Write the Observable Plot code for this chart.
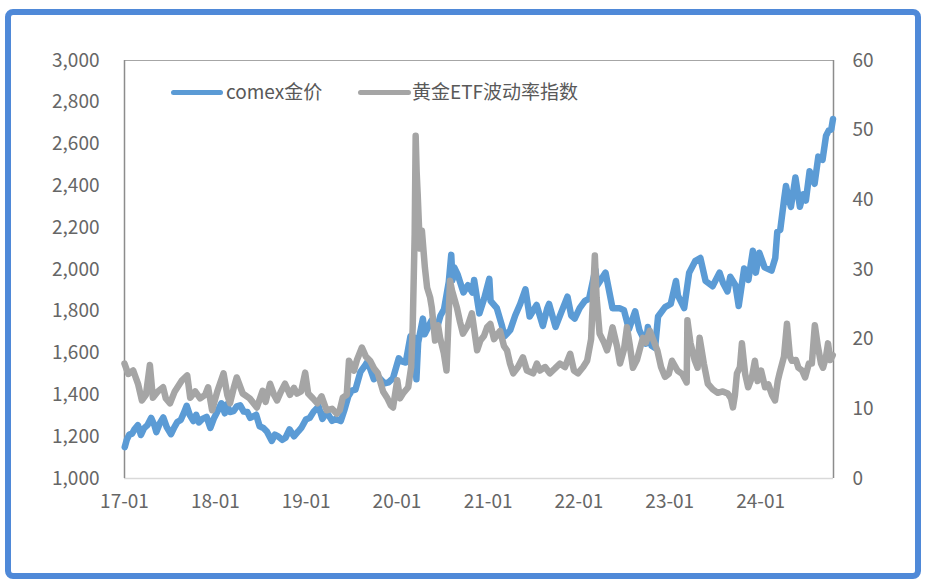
<!DOCTYPE html>
<html>
<head>
<meta charset="utf-8">
<script src="https://cdn.jsdelivr.net/npm/d3@7"></script>
<script src="https://cdn.jsdelivr.net/npm/@observablehq/plot@0.6"></script>
<style>
  html, body { margin:0; padding:0; background:#fff; }
  body { width:929px; height:586px; overflow:hidden; position:relative; font-family:"Noto Sans CJK SC","Noto Sans",sans-serif; }
  #frame { position:absolute; left:5px; top:9px; width:904px; height:558px; border:6px solid #4f89d8; border-radius:8px; }
  #chart { position:absolute; left:0; top:0; }
  .sw { position:absolute; height:5px; border-radius:3px; }
  .lt { position:absolute; font-size:19px; line-height:20px; color:#595959; white-space:nowrap; }
</style>
</head>
<body>
<div id="frame"></div>
<div id="chart"></div>
<div class="sw" style="left:171px;top:90px;width:52px;background:#5b9bd5"></div>
<div class="lt" style="left:226px;top:81px">comex金价</div>
<div class="sw" style="left:358px;top:90px;width:53px;background:#a5a5a5"></div>
<div class="lt" style="left:412px;top:81px">黄金ETF波动率指数</div>
<script>
const seriesNames = ["comex金价", "黄金ETF波动率指数"];
const yearTicks = ["2017-01-01","2018-01-01","2019-01-01","2020-01-01","2021-01-01","2022-01-01","2023-01-01","2024-01-01"];
const leftTicks = [1000,1200,1400,1600,1800,2000,2200,2400,2600,2800,3000];
const rightTicks = [0,10,20,30,40,50,60];

const goldDates = [
"2017-01-02","2017-01-10","2017-01-20","2017-02-01","2017-02-10","2017-02-24","2017-03-08","2017-03-20","2017-04-03","2017-04-18",
"2017-05-01","2017-05-09","2017-05-22","2017-06-06","2017-06-20","2017-07-07","2017-07-20","2017-08-01","2017-08-15","2017-08-28",
"2017-09-08","2017-09-20","2017-10-05","2017-10-16","2017-10-27","2017-11-10","2017-11-27","2017-12-12","2017-12-27","2018-01-10",
"2018-01-25","2018-02-08","2018-02-16","2018-03-01","2018-03-15","2018-03-28","2018-04-11","2018-04-25","2018-05-10","2018-05-21",
"2018-06-14","2018-06-28","2018-07-13","2018-07-27","2018-08-16","2018-08-28","2018-09-12","2018-09-27","2018-10-10","2018-10-26",
"2018-11-13","2018-11-30","2018-12-14","2018-12-31","2019-01-15","2019-01-31","2019-02-20","2019-03-07","2019-03-25","2019-04-15",
"2019-04-30","2019-05-20","2019-06-03","2019-06-20","2019-07-03","2019-07-18","2019-08-07","2019-08-28","2019-09-05","2019-09-30",
"2019-10-15","2019-11-12","2019-11-28","2019-12-16","2020-01-08","2020-01-20","2020-02-05","2020-02-24","2020-03-09","2020-03-19",
"2020-03-26","2020-04-14","2020-04-21","2020-05-18","2020-06-05","2020-06-24","2020-07-08","2020-07-27","2020-08-06","2020-08-11",
"2020-08-18","2020-09-01","2020-09-24","2020-10-12","2020-10-30","2020-11-06","2020-11-27","2020-12-16","2021-01-06","2021-01-11",
"2021-02-05","2021-02-26","2021-03-08","2021-03-31","2021-04-20","2021-05-10","2021-05-31","2021-06-17","2021-07-15","2021-08-09",
"2021-08-27","2021-09-03","2021-09-29","2021-10-22","2021-11-16","2021-12-01","2021-12-15","2022-01-04","2022-01-25","2022-02-11",
"2022-03-08","2022-03-16","2022-04-18","2022-05-16","2022-06-13","2022-07-01","2022-07-21","2022-08-15","2022-09-01","2022-09-28",
"2022-10-05","2022-10-20","2022-11-03","2022-11-15","2022-12-13","2023-01-05","2023-01-26","2023-02-03","2023-02-28","2023-03-20",
"2023-04-13","2023-05-04","2023-05-25","2023-06-22","2023-07-20","2023-08-03","2023-08-21","2023-09-01","2023-09-22","2023-10-05",
"2023-10-27","2023-11-13","2023-12-01","2023-12-13","2023-12-27","2024-01-17","2024-02-14","2024-02-29","2024-03-08","2024-03-20",
"2024-04-05","2024-04-12","2024-04-22","2024-05-02","2024-05-20","2024-06-07","2024-06-20","2024-07-01","2024-07-16","2024-08-05",
"2024-08-20","2024-09-06","2024-09-20","2024-10-01","2024-10-11","2024-10-18"];
const goldPrices = [
1150,1185,1210,1215,1235,1255,1208,1240,1255,1290,
1255,1222,1262,1292,1245,1212,1245,1270,1280,1315,
1348,1305,1275,1305,1268,1285,1295,1242,1290,1322,
1360,1312,1355,1318,1322,1345,1350,1320,1318,1290,
1305,1250,1242,1225,1180,1210,1200,1185,1195,1235,
1202,1225,1245,1282,1290,1320,1345,1285,1318,1276,
1285,1275,1325,1395,1420,1425,1510,1545,1560,1475,
1490,1455,1460,1480,1575,1560,1555,1680,1675,1475,
1650,1765,1690,1755,1700,1780,1810,1940,2070,1950,
2010,1975,1890,1925,1890,1950,1790,1860,1955,1850,
1815,1730,1680,1710,1780,1835,1905,1775,1830,1730,
1815,1835,1725,1795,1870,1780,1765,1815,1850,1860,
2000,1925,1985,1815,1815,1805,1715,1800,1710,1645,
1725,1635,1625,1775,1820,1835,1945,1875,1815,1985,
2040,2055,1945,1920,1985,1935,1895,1965,1925,1825,
2005,1950,2090,1985,2080,2010,1995,2055,2180,2190,
2340,2400,2340,2300,2440,2300,2360,2330,2470,2410,
2540,2525,2640,2665,2670,2720];

const gvzDates = [
"2017-01-01","2017-01-16","2017-02-05","2017-02-25","2017-03-12","2017-03-28","2017-04-13","2017-04-25","2017-05-15","2017-06-05",
"2017-06-16","2017-07-03","2017-07-22","2017-08-20","2017-09-10","2017-09-22","2017-10-12","2017-11-01","2017-11-21","2017-12-03",
"2017-12-19","2018-01-09","2018-02-03","2018-02-18","2018-03-01","2018-03-16","2018-03-28","2018-04-21","2018-05-19","2018-06-17",
"2018-07-10","2018-07-22","2018-08-09","2018-08-25","2018-09-06","2018-09-22","2018-10-08","2018-10-28","2018-11-13","2018-11-25",
"2018-12-12","2018-12-28","2019-01-09","2019-01-28","2019-02-15","2019-03-04","2019-03-24","2019-04-15","2019-05-04","2019-05-16",
"2019-05-28","2019-06-13","2019-06-22","2019-07-12","2019-07-24","2019-08-13","2019-08-29","2019-09-15","2019-10-01","2019-10-16",
"2019-11-06","2019-11-22","2019-12-07","2019-12-16","2020-01-02","2020-01-13","2020-01-25","2020-02-15","2020-02-27","2020-03-04",
"2020-03-12","2020-03-16","2020-03-20","2020-03-24","2020-04-02","2020-04-10","2020-04-22","2020-05-01","2020-05-13","2020-05-20",
"2020-06-02","2020-06-14","2020-06-22","2020-07-07","2020-07-18","2020-08-01","2020-08-09","2020-08-29","2020-09-10","2020-09-22",
"2020-10-12","2020-10-28","2020-11-18","2020-12-01","2020-12-16","2020-12-28","2021-01-10","2021-01-25","2021-02-18","2021-03-06",
"2021-03-18","2021-03-30","2021-04-12","2021-05-01","2021-05-21","2021-06-06","2021-07-01","2021-07-16","2021-07-28","2021-08-18",
"2021-09-06","2021-09-27","2021-10-17","2021-11-06","2021-11-27","2021-12-12","2021-12-28","2022-01-18","2022-02-03","2022-02-19",
"2022-03-06","2022-03-13","2022-03-25","2022-04-12","2022-04-24","2022-05-06","2022-05-16","2022-06-03","2022-06-15","2022-07-01",
"2022-07-13","2022-07-25","2022-08-06","2022-08-22","2022-09-15","2022-09-27","2022-10-13","2022-10-31","2022-11-12","2022-11-27",
"2022-12-13","2022-12-28","2023-01-10","2023-02-01","2023-02-20","2023-03-10","2023-03-13","2023-03-25","2023-04-11","2023-04-23",
"2023-05-01","2023-05-18","2023-06-03","2023-06-23","2023-07-13","2023-08-02","2023-08-22","2023-09-04","2023-09-12","2023-09-20",
"2023-09-28","2023-10-10","2023-10-18","2023-10-31","2023-11-12","2023-11-27","2023-12-09","2023-12-20","2024-01-03","2024-01-19",
"2024-02-01","2024-02-16","2024-02-28","2024-03-10","2024-03-18","2024-04-04","2024-04-16","2024-04-28","2024-05-06","2024-05-22",
"2024-06-01","2024-06-16","2024-06-28","2024-07-13","2024-07-25","2024-08-06","2024-08-18","2024-08-31","2024-09-08","2024-09-20",
"2024-09-28","2024-10-07","2024-10-17"];
const gvzValues = [
16.5,15.0,15.5,13.5,11.2,12.0,16.3,11.6,12.5,13.1,
11.5,10.8,12.5,14.1,14.8,11.6,12.5,11.5,12.0,13.1,
9.8,12.5,15.1,12.0,10.8,13.0,14.5,12.2,11.5,10.2,
12.6,11.0,13.6,12.0,11.2,12.5,13.6,12.0,13.0,12.2,
12.5,15.2,12.2,11.5,10.8,11.8,9.8,10.0,9.3,9.8,
11.6,12.0,16.9,15.5,17.0,18.8,17.5,16.9,15.8,15.1,
12.5,11.6,10.5,10.2,14.1,11.5,12.2,13.1,16.0,21.7,
35.0,49.2,44.0,40.9,33.0,35.6,30.3,27.4,26.0,24.5,
19.8,22.0,20.2,18.0,15.5,28.4,27.0,24.5,22.5,20.8,
22.0,23.7,18.4,19.8,20.5,21.7,22.2,20.0,21.2,19.0,
18.4,16.5,15.1,16.0,17.4,15.5,15.1,16.5,15.5,16.0,
15.1,15.8,16.5,16.0,17.9,15.5,15.1,16.0,16.9,20.0,
32.0,26.0,20.8,19.5,18.4,20.0,21.7,19.0,16.5,18.5,
21.7,19.0,15.9,17.0,20.2,19.5,21.2,19.5,18.4,16.0,
14.6,15.0,16.9,15.5,15.0,13.8,22.7,19.5,17.0,15.9,
20.2,16.5,13.6,12.8,12.3,12.5,12.2,11.5,10.2,12.0,
15.1,16.0,19.4,15.0,13.1,14.5,16.9,14.0,15.5,13.1,
13.5,12.0,11.2,14.0,15.2,17.5,22.2,17.5,16.9,17.0,
15.9,15.5,14.5,16.5,16.5,22.0,19.0,16.5,15.9,17.5,
19.4,17.0,17.7];

const xDomain = [new Date("2017-01-01"), new Date("2024-10-20")];
const yDomain = [1000, 3000];
const rDomain = [0, 60];
// map right-axis (volatility) values onto the left (price) scale
const toLeft = v => yDomain[0] + (v - rDomain[0]) * (yDomain[1] - yDomain[0]) / (rDomain[1] - rDomain[0]);

const gold = goldDates.map((d, i) => ({date: new Date(d), value: goldPrices[i], series: seriesNames[0]}));
const gvz = gvzDates.map((d, i) => ({date: new Date(d), value: toLeft(gvzValues[i]), series: seriesNames[1]}));

const chart = Plot.plot({
  width: 929,
  height: 586,
  marginLeft: 124,
  marginRight: 96,
  marginTop: 60,
  marginBottom: 108,
  style: {fontFamily: '"Noto Sans CJK SC","Noto Sans",sans-serif', fontSize: "19px", color: "#595959", background: "transparent"},
  x: {type: "utc", domain: xDomain, label: null},
  y: {domain: yDomain, label: null},
  marks: [
    Plot.ruleY([yDomain[1]], {stroke: "#a6a6a6", strokeWidth: 1.2}),
    Plot.ruleY([yDomain[0]], {stroke: "#d9d9d9", strokeWidth: 1.5}),
    Plot.ruleX([xDomain[0]], {stroke: "#8c8c8c", strokeWidth: 1.5}),
    Plot.ruleX([xDomain[1]], {stroke: "#8c8c8c", strokeWidth: 1.5}),
    Plot.axisY({ticks: leftTicks, tickSize: 0, tickPadding: 25, tickFormat: d3.format(","), fill: "#666666", fontSize: 19}),
    Plot.axisY({anchor: "right", ticks: rightTicks.map(toLeft), tickSize: 0, tickPadding: 19,
      tickFormat: (d, i) => String(rightTicks[i]), fill: "#666666", fontSize: 19}),
    Plot.axisX({ticks: yearTicks.map(d => new Date(d)), tickSize: 0, tickPadding: 16,
      tickFormat: d3.utcFormat("%y-%m"), fill: "#666666", fontSize: 19}),
    Plot.line(gold, {x: "date", y: "value", stroke: "#5b9bd5", strokeWidth: 6.5, strokeLinejoin: "round", strokeLinecap: "round"}),
    Plot.line(gvz, {x: "date", y: "value", stroke: "#a5a5a5", strokeWidth: 6.5, strokeLinejoin: "round", strokeLinecap: "round"})
  ]
});
document.getElementById("chart").appendChild(chart);
</script>
</body>
</html>
